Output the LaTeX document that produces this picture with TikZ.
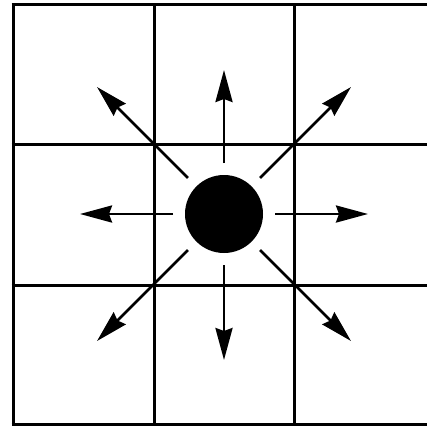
\documentclass[tikz,border=0pt]{standalone}
\usepackage{tikz}
\usetikzlibrary{arrows.meta}

\begin{document}
\begin{tikzpicture}[x=1pt,y=-1pt,
  gridline/.style={draw=black,line width=3pt},
  ray/.style={draw=black,line width=2.8pt,-{Stealth[length=32pt,width=17pt,inset=3pt]}},
  source/.style={circle,fill=black,minimum size=78pt,inner sep=0pt,outer sep=12pt}]
\useasboundingbox (0,0) rectangle (427,426);
% grid:
\foreach \gx in {13,154,294}
  \path[gridline] (\gx,4) -- (\gx,424);
\foreach \gy in {4,144,285,424}
  \path[gridline] (11.5,\gy) -- (432,\gy);
% source and rays:
\node[source] (src) at (224,214) {};
\coordinate (tipN) at (224,70);
\coordinate (tipS) at (224,360);
\coordinate (tipW) at (80,214);
\coordinate (tipE) at (368,214);
\coordinate (tipNW) at (97,87);
\coordinate (tipNE) at (351,87);
\coordinate (tipSW) at (97,341);
\coordinate (tipSE) at (351,341);
\foreach \t in {N,S,W,E,NW,NE,SW,SE}
  \path[ray] (src) -- (tip\t);
\end{tikzpicture}
\end{document}
